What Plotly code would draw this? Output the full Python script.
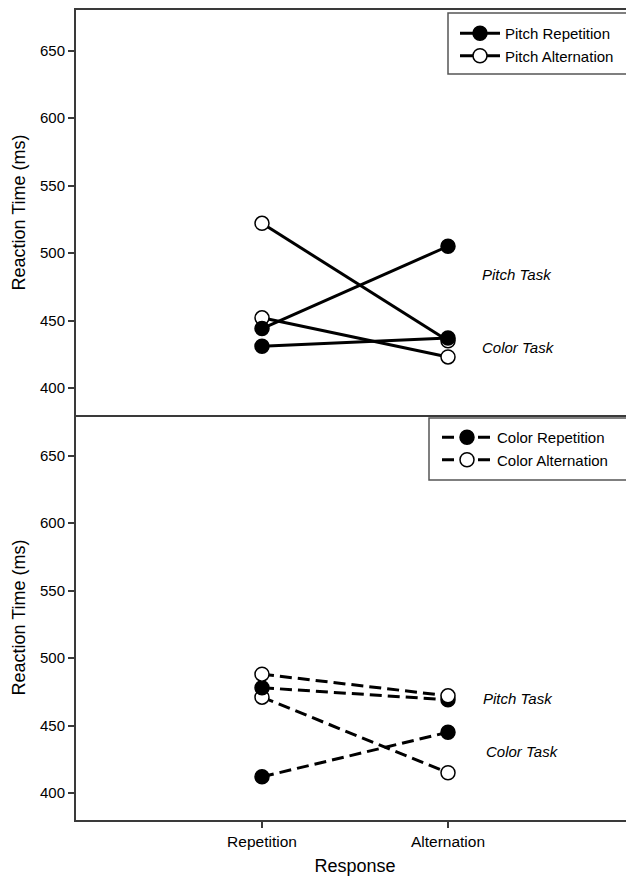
import plotly.graph_objects as go
from plotly.subplots import make_subplots

# ---- data ----
responses = ["Repetition", "Alternation"]

# Top panel (Pitch sequences, solid lines)
pitch_rep_pitch_task = [444, 505]
pitch_alt_pitch_task = [522, 435]
pitch_rep_color_task = [431, 437]
pitch_alt_color_task = [452, 423]

# Bottom panel (Color sequences, dashed lines)
color_rep_pitch_task = [478, 469]
color_alt_pitch_task = [488, 472]
color_rep_color_task = [412, 445]
color_alt_color_task = [471, 415]

task_labels = ["Pitch Task", "Color Task"]
top_label_y = [484, 430]
bottom_label_y = [470, 431]

y_ticks = [400, 450, 500, 550, 600, 650]

FONT = "Arial, Liberation Sans, sans-serif"
AX = "#3a3a3a"

fig = make_subplots(rows=2, cols=1, vertical_spacing=0.0)

filled = dict(symbol="circle", size=14, color="black", line=dict(color="black", width=1.5))
opened = dict(symbol="circle", size=14, color="white", line=dict(color="black", width=1.5))


def add(row, y, marker, name, dash, legend, show, rank):
    fig.add_trace(go.Scatter(
        x=responses, y=y, mode="lines+markers", name=name,
        line=dict(color="black", width=3, dash=dash),
        marker=marker, legend=legend, showlegend=show, legendgroup=name, legendrank=rank,
    ), row=row, col=1)


# top panel
add(1, pitch_alt_pitch_task, opened, "Pitch Alternation", "solid", "legend", True, 2)
add(1, pitch_alt_color_task, opened, "Pitch Alternation", "solid", "legend", False, 2)
add(1, pitch_rep_pitch_task, filled, "Pitch Repetition", "solid", "legend", True, 1)
add(1, pitch_rep_color_task, filled, "Pitch Repetition", "solid", "legend", False, 1)

# bottom panel
DASH = "12px,6px"
add(2, color_alt_color_task, opened, "Color Alternation", DASH, "legend2", False, 2)
add(2, color_rep_color_task, filled, "Color Repetition", DASH, "legend2", True, 1)
add(2, color_rep_pitch_task, filled, "Color Repetition", DASH, "legend2", False, 1)
add(2, color_alt_pitch_task, opened, "Color Alternation", DASH, "legend2", True, 2)

for i, lab in enumerate(task_labels):
    fig.add_annotation(x=1.17, y=top_label_y[i], xref="x", yref="y", text=lab,
                       showarrow=False, xanchor="left", yanchor="middle",
                       font=dict(family=FONT, size=15, color="black", style="italic"))
    fig.add_annotation(x=1.18 + (0.015 if i == 1 else 0), y=bottom_label_y[i], xref="x2", yref="y2", text=lab,
                       showarrow=False, xanchor="left", yanchor="middle",
                       font=dict(family=FONT, size=15, color="black", style="italic"))

# page offset (browser body margin) and plot-area edges in window pixels
OFF = 8
L, R, T, B = 76, 634, 10, 820


def px2paper(x0, y0, x1, y1):
    return dict(x0=(x0 - L) / (R - L), x1=(x1 - L) / (R - L),
                y0=(B - y1) / (B - T), y1=(B - y0) / (B - T))


fig.add_shape(type="rect", xref="paper", yref="paper", line=dict(color="#555", width=1.5),
              **px2paper(448, 13, 632, 74))
fig.add_shape(type="rect", xref="paper", yref="paper", line=dict(color="#555", width=1.5),
              **px2paper(429, 418, 632, 480))

yaxis_common = dict(range=[380, 680], tickvals=y_ticks, ticks="outside", ticklen=6,
                    tickwidth=1.5, tickcolor=AX, showline=True, linecolor=AX, linewidth=2,
                    showgrid=False, zeroline=False, automargin=False,
                    tickfont=dict(family=FONT, size=15, color="black"),
                    title=dict(text="Reaction Time (ms)", font=dict(family=FONT, size=18, color="black"),
                               standoff=10))

fig.update_yaxes(**yaxis_common, row=1, col=1)
fig.update_yaxes(**yaxis_common, row=2, col=1)

fig.update_xaxes(type="category", categoryarray=responses, range=[-1, 2], showline=True,
                 linecolor=AX, linewidth=2, mirror=True, ticks="", showticklabels=False,
                 showgrid=False, zeroline=False, automargin=False, row=1, col=1)
fig.update_xaxes(type="category", categoryarray=responses, range=[-1, 2], showline=True,
                 linecolor=AX, linewidth=2, ticks="outside", ticklen=6, tickwidth=1.5, tickcolor=AX,
                 showgrid=False, zeroline=False, automargin=False,
                 tickfont=dict(family=FONT, size=15.5, color="black"),
                 title=dict(text="Response", font=dict(family=FONT, size=18, color="black"), standoff=14),
                 row=2, col=1)

W, H = 634 - OFF, 876 - OFF
fig.update_layout(
    width=W, height=H,
    margin=dict(l=L - OFF, r=634 - R, t=T - OFF, b=876 - B, autoexpand=False),
    paper_bgcolor="white", plot_bgcolor="white",
    font=dict(family=FONT, color="black"),
    legend=dict(x=(455 - L) / (R - L), y=(B - 17) / (B - T), xanchor="left", yanchor="top",
                bgcolor="rgba(0,0,0,0)", borderwidth=0, itemwidth=40,
                font=dict(family=FONT, size=15, color="black"), tracegroupgap=0),
    legend2=dict(x=(437 - L) / (R - L), y=(B - 421) / (B - T), xanchor="left", yanchor="top",
                 bgcolor="rgba(0,0,0,0)", borderwidth=0, itemwidth=50,
                 font=dict(family=FONT, size=15, color="black"), tracegroupgap=0),
)

fig.write_html("out.html")
